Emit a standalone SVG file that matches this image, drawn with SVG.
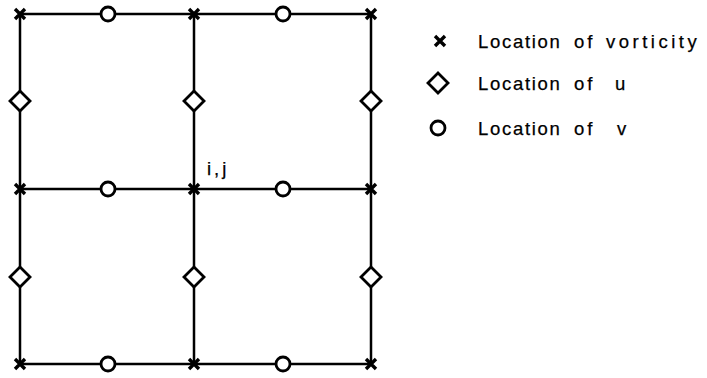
<svg xmlns="http://www.w3.org/2000/svg" width="707" height="378" viewBox="0 0 707 378">
<defs>
<style>
.ln{stroke:#000;stroke-width:2.5;fill:none}
.cir{stroke:#000;stroke-width:2.8;fill:#fff}
.dia{stroke:#000;stroke-width:2.8;fill:#fff}
.x{stroke:#000;stroke-width:3.4;stroke-linecap:butt}
.t{font-family:"Liberation Sans",Arial,sans-serif;font-size:18.5px;fill:#000;stroke:#000;stroke-width:0.25}
.w1{letter-spacing:1.7px}
.w2{letter-spacing:3px}
.w3{letter-spacing:3.5px}
</style>
<g id="xm"><path class="x" d="M-5,-5L5,5M-5,5L5,-5"/></g>
<polygon id="dm" class="dia" points="0,-10 10,0 0,10 -10,0"/>
<circle id="cm" class="cir" r="7"/>
</defs>
<g id="connectors">
<path class="ln" d="M20,14H371M20,189H371M20,364H371M20,14V364M194,14V364M371,14V364"/>
</g>
<g id="vorticity">
<use href="#xm" x="20" y="14"/><use href="#xm" x="194" y="14"/><use href="#xm" x="371" y="14"/>
<use href="#xm" x="20" y="189"/><use href="#xm" x="194" y="189"/><use href="#xm" x="371" y="189"/>
<use href="#xm" x="20" y="364"/><use href="#xm" x="194" y="364"/><use href="#xm" x="371" y="364"/>
</g>
<g id="u-points">
<use href="#dm" x="20" y="101"/><use href="#dm" x="194" y="101"/><use href="#dm" x="371" y="101"/>
<use href="#dm" x="20" y="277"/><use href="#dm" x="194" y="277"/><use href="#dm" x="371" y="277"/>
</g>
<g id="v-points">
<use href="#cm" x="108" y="14"/><use href="#cm" x="283" y="14"/>
<use href="#cm" x="108" y="189"/><use href="#cm" x="283" y="189"/>
<use href="#cm" x="108" y="364"/><use href="#cm" x="283" y="364"/>
</g>
<g id="label-ij"><text class="t" x="207" y="175" style="letter-spacing:3px">i,j</text></g>
<g id="legend">
<g id="leg-vort"><use href="#xm" x="440" y="41"/><text class="t" y="48"><tspan class="w1" x="478">Location</tspan><tspan class="w2" x="574">of</tspan><tspan class="w3" x="606">vorticity</tspan></text></g>
<g id="leg-u"><use href="#dm" x="438" y="83"/><text class="t" y="90"><tspan class="w1" x="478">Location</tspan><tspan class="w2" x="574">of</tspan><tspan x="615">u</tspan></text></g>
<g id="leg-v"><use href="#cm" x="438" y="128"/><text class="t" y="135"><tspan class="w1" x="478">Location</tspan><tspan class="w2" x="574">of</tspan><tspan x="617">v</tspan></text></g>
</g>
</svg>
